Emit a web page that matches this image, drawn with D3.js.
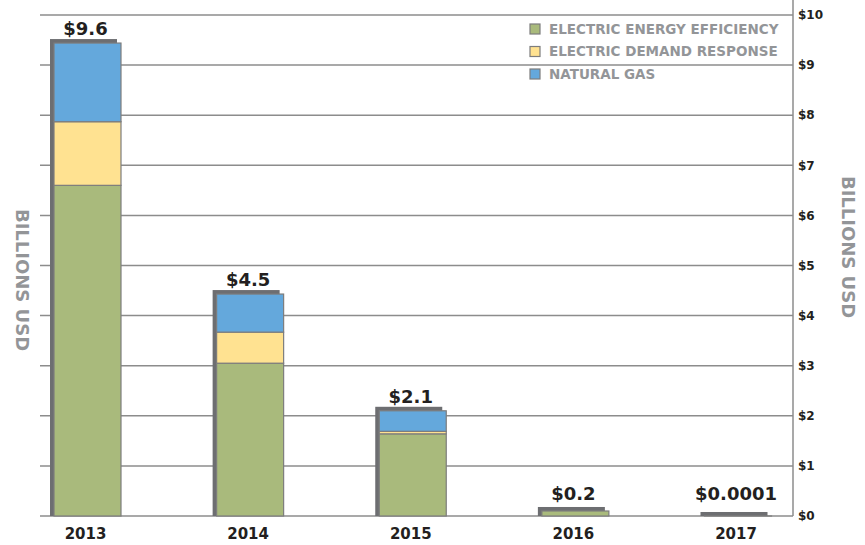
<!DOCTYPE html>
<html>
<head>
<meta charset="utf-8">
<script src="https://cdn.jsdelivr.net/npm/d3@7"></script>
<style>
    body { margin: 0; background: #fff; }
    text { font-family: "DejaVu Sans", sans-serif; font-weight: bold; }
</style>
</head>
<body>
<svg id="chart"></svg>
<script>
// values (billions USD)
const years = ['2013', '2014', '2015', '2016', '2017'];
const efficiency = [6.6, 3.05, 1.64, 0.1, 0.0001];
const demandResponse = [1.27, 0.62, 0.05, 0, 0];
const naturalGas = [1.57, 0.76, 0.41, 0, 0];
const totalLabels = ['$9.6', '$4.5', '$2.1', '$0.2', '$0.0001'];
const seriesNames = ['ELECTRIC ENERGY EFFICIENCY', 'ELECTRIC DEMAND RESPONSE', 'NATURAL GAS'];
const yTicks = [0, 1, 2, 3, 4, 5, 6, 7, 8, 9, 10];

const colors = ['#a9ba7c', '#ffe291', '#64a8dc'];
const gridColor = '#8c8c8c';
const shadowColor = '#6d6e71';

const width = 865, height = 545;
const svg = d3.select('#chart').attr('width', width).attr('height', height);

const x = d3.scalePoint().domain(years).range([87.5, 738]);
const y = d3.scaleLinear().domain([0, 10]).range([516, 15]);
const barW = 67;
const plotLeft = 40, plotRight = 793;

// gridlines
svg.append('g').selectAll('line')
    .data(yTicks)
    .join('line')
    .attr('x1', plotLeft).attr('x2', plotRight)
    .attr('y1', d => y(d)).attr('y2', d => y(d))
    .attr('stroke', gridColor).attr('stroke-width', 1.5);

// right axis line
svg.append('line')
    .attr('x1', plotRight).attr('x2', plotRight)
    .attr('y1', 0).attr('y2', y(0))
    .attr('stroke', gridColor).attr('stroke-width', 1.5);

// right axis labels
svg.append('g').selectAll('text')
    .data(yTicks)
    .join('text')
    .attr('x', plotRight + 5)
    .attr('y', d => y(d))
    .attr('dy', '0.35em')
    .attr('font-size', 12)
    .attr('fill', '#231f20')
    .text(d => '$' + d);

// stacked data
const rows = years.map((yr, i) => ({year: yr, eff: efficiency[i], dr: demandResponse[i], gas: naturalGas[i]}));
const stack = d3.stack().keys(['eff', 'dr', 'gas']);
const stacked = stack(rows);

// shadows behind bars
svg.append('g').selectAll('rect')
    .data(rows)
    .join('rect')
    .attr('x', d => x(d.year) - barW / 2 - 4)
    .attr('y', d => y(d.eff + d.dr + d.gas) - 4)
    .attr('width', barW)
    .attr('height', d => y(0) - y(d.eff + d.dr + d.gas) + 4)
    .attr('fill', shadowColor);

// segments
svg.append('g').selectAll('g')
    .data(stacked)
    .join('g')
    .attr('fill', (d, i) => colors[i])
    .selectAll('rect')
    .data(d => d.filter(s => s[1] - s[0] > 0))
    .join('rect')
    .attr('x', d => x(d.data.year) - barW / 2)
    .attr('y', d => y(d[1]))
    .attr('width', barW)
    .attr('height', d => y(d[0]) - y(d[1]))
    .attr('stroke', '#7d7d7d')
    .attr('stroke-width', 1.2);

// total labels
svg.append('g').selectAll('text')
    .data(rows)
    .join('text')
    .attr('x', d => x(d.year) - 2)
    .attr('y', d => Math.min(y(d.eff + d.dr + d.gas) - 8, 500))
    .attr('text-anchor', 'middle')
    .attr('font-size', 18)
    .attr('fill', '#231f20')
    .text((d, i) => totalLabels[i]);

// year labels
svg.append('g').selectAll('text')
    .data(years)
    .join('text')
    .attr('x', d => x(d) - 2)
    .attr('y', 539)
    .attr('text-anchor', 'middle')
    .attr('font-size', 15)
    .attr('fill', '#231f20')
    .text(d => d);

// axis titles
svg.append('text')
    .attr('transform', 'translate(16,280) rotate(90)')
    .attr('text-anchor', 'middle')
    .attr('font-size', 18)
    .attr('fill', '#939598')
    .text('BILLIONS USD');

svg.append('text')
    .attr('transform', 'translate(842,247) rotate(90)')
    .attr('text-anchor', 'middle')
    .attr('font-size', 18)
    .attr('fill', '#939598')
    .text('BILLIONS USD');

// legend
const legend = svg.append('g').attr('transform', 'translate(530,24)');
const item = legend.selectAll('g')
    .data(seriesNames)
    .join('g')
    .attr('transform', (d, i) => `translate(0,${i * 22.5})`);
item.append('rect')
    .attr('width', 10).attr('height', 10)
    .attr('fill', (d, i) => colors[i])
    .attr('stroke', '#7d7d7d').attr('stroke-width', 1.2);
item.append('text')
    .attr('x', 19).attr('y', 5)
    .attr('dy', '0.35em')
    .attr('font-size', 13.5)
    .attr('fill', '#939598')
    .text(d => d);
</script>
</body>
</html>
